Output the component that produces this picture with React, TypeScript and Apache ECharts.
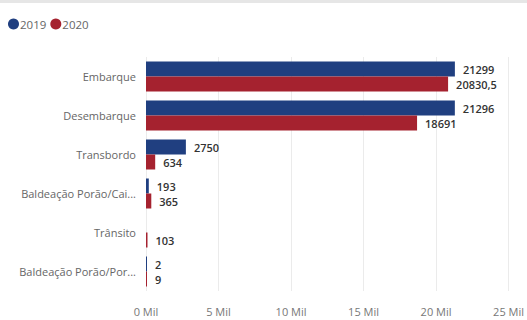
import React, { useEffect, useRef } from "react";
import * as echarts from "echarts";

const categories = [
  "Embarque",
  "Desembarque",
  "Transbordo",
  "Baldeação Porão/Cai...",
  "Trânsito",
  "Baldeação Porão/Por...",
];
const values2019: (number | null)[] = [21299, 21296, 2750, 193, null, 2];
const values2020: (number | null)[] = [20830.5, 18691, 634, 365, 103, 9];
const seriesNames = ["2019", "2020"];
const xTicks = [0, 5000, 10000, 15000, 20000, 25000];

const fmtVal = (v: number) => String(v).replace(".", ",");

export default function App() {
  const ref = useRef<HTMLDivElement>(null);
  useEffect(() => {
    if (!ref.current) return;
    const chart = echarts.init(ref.current, undefined, { renderer: "svg" });
    const labelStyle = {
      show: true,
      position: "right" as const,
      distance: 8,
      color: "#333",
      fontSize: 11,
      fontWeight: 600 as const,
      fontFamily: "Open Sans",
      formatter: (p: any) => fmtVal(p.value),
    };
    chart.setOption({
      animation: false,
      graphic: [
        {
          type: "rect",
          shape: { x: 0, y: 0, width: 527, height: 3 },
          style: { fill: "#e6e6e6" },
        },
      ],
      legend: {
        left: 3,
        top: 13,
        icon: "circle",
        itemWidth: 11,
        itemHeight: 11,
        itemGap: 4,
        textStyle: { color: "#666", fontSize: 11.5, fontFamily: "Open Sans", padding: [0, 0, 0, -4] },
        data: seriesNames,
      },
      grid: { left: 146, right: 16, top: 57, bottom: 29, containLabel: false },
      xAxis: {
        type: "value",
        min: xTicks[0],
        max: xTicks[xTicks.length - 1],
        interval: 5000,
        axisLine: { show: false },
        axisTick: { show: false },
        splitLine: { show: true, lineStyle: { color: "#ebebeb", width: 1 } },
        axisLabel: {
          color: "#777",
          fontSize: 11,
          fontFamily: "Open Sans",
          margin: 15,
          formatter: (v: number) => `${v / 1000} Mil`,
        },
      },
      yAxis: {
        type: "category",
        inverse: true,
        data: categories,
        axisLine: { show: false },
        axisTick: { show: false },
        axisLabel: {
          color: "#666",
          fontSize: 11,
          fontFamily: "Open Sans",
          margin: 10,
        },
      },
      series: [
        {
          name: seriesNames[0],
          type: "bar",
          data: values2019,
          barWidth: 15,
          barGap: "0%",
          barMinHeight: 1,
          itemStyle: { color: "#203f80" },
          label: labelStyle,
        },
        {
          name: seriesNames[1],
          type: "bar",
          data: values2020,
          barWidth: 15,
          barGap: "0%",
          barMinHeight: 1,
          itemStyle: { color: "#a5222f" },
          label: labelStyle,
        },
      ],
    });
    return () => chart.dispose();
  }, []);
  return <div ref={ref} style={{ width: 527, height: 320, position: "absolute", left: 0, top: 0 }} />;
}
